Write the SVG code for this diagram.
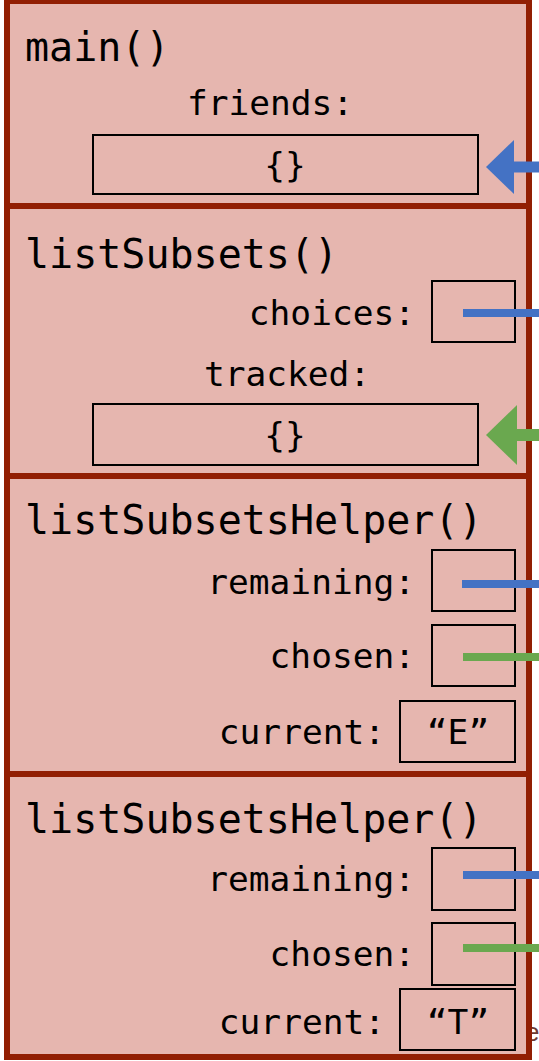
<svg xmlns="http://www.w3.org/2000/svg" width="539" height="1061" viewBox="0 0 539 1061">
  <style>
    .frame { fill: #E6B6AF; stroke: #921F03; stroke-width: 6; }
    .title { font-family: "DejaVu Sans Mono", "Liberation Mono", monospace; font-size: 40px; fill: #000; }
    .label { font-family: "DejaVu Sans Mono", "Liberation Mono", monospace; font-size: 34.5px; fill: #000; }
    .cell { fill: none; stroke: #000; stroke-width: 2; }
    .ptr-blue { stroke: #4472C4; stroke-width: 8; }
    .ptr-green { stroke: #6AA84F; stroke-width: 8; }
    .arr-blue { stroke: #4472C4; stroke-width: 11; }
    .arr-green { stroke: #6AA84F; stroke-width: 12; }
  </style>
  <defs>
    <marker id="headBlue" markerUnits="userSpaceOnUse" markerWidth="29" markerHeight="54" refX="0" refY="27" orient="auto">
      <path d="M0,0 L28,27 L0,54 z" fill="#4472C4"/>
    </marker>
    <marker id="headGreen" markerUnits="userSpaceOnUse" markerWidth="32" markerHeight="60" refX="0" refY="30" orient="auto">
      <path d="M0,0 L31,30 L0,60 z" fill="#6AA84F"/>
    </marker>
  </defs>

  <!-- edge of a caption lying behind the stack -->
  <text x="525" y="1041" font-family="Liberation Sans, sans-serif" font-size="26" fill="#6d3b34">e</text>

  <g id="frame-main">
    <rect class="frame" x="7" y="1" width="522" height="205"/>
    <text class="title" x="25" y="61">main()</text>
    <text class="label" x="187" y="115">friends:</text>
    <rect class="cell" x="93" y="135" width="385" height="59"/>
    <text class="label" x="285" y="177" text-anchor="middle">{}</text>
  </g>

  <g id="frame-listSubsets">
    <rect class="frame" x="7" y="206" width="522" height="270"/>
    <text class="title" x="25" y="268">listSubsets()</text>
    <text class="label" x="415" y="325" text-anchor="end">choices:</text>
    <rect class="cell" x="432" y="281" width="83" height="61"/>
    <text class="label" x="204" y="386">tracked:</text>
    <rect class="cell" x="93" y="404" width="385" height="61"/>
    <text class="label" x="285" y="447" text-anchor="middle">{}</text>
  </g>

  <g id="frame-helper-1">
    <rect class="frame" x="7" y="476" width="522" height="298"/>
    <text class="title" x="25" y="534">listSubsetsHelper()</text>
    <text class="label" x="415" y="594" text-anchor="end">remaining:</text>
    <rect class="cell" x="432" y="550" width="83" height="61"/>
    <text class="label" x="415" y="668" text-anchor="end">chosen:</text>
    <rect class="cell" x="432" y="625" width="83" height="61"/>
    <text class="label" x="385" y="744" text-anchor="end">current:</text>
    <rect class="cell" x="400" y="701" width="115" height="61"/>
    <text class="label" x="458" y="744" text-anchor="middle">“E”</text>
  </g>

  <g id="frame-helper-2">
    <rect class="frame" x="7" y="774" width="522" height="283"/>
    <text class="title" x="25" y="833">listSubsetsHelper()</text>
    <text class="label" x="415" y="891" text-anchor="end">remaining:</text>
    <rect class="cell" x="432" y="848" width="83" height="62"/>
    <text class="label" x="415" y="966" text-anchor="end">chosen:</text>
    <rect class="cell" x="432" y="923" width="83" height="62"/>
    <text class="label" x="385" y="1034" text-anchor="end">current:</text>
    <rect class="cell" x="400" y="989" width="115" height="61"/>
    <text class="label" x="458" y="1034" text-anchor="middle">“T”</text>
  </g>

  <g id="connectors">
    <line class="arr-blue" x1="545" y1="167" x2="514" y2="167" marker-end="url(#headBlue)"/>
    <line class="ptr-blue" x1="463" y1="313" x2="545" y2="313"/>
    <line class="arr-green" x1="545" y1="435" x2="517" y2="435" marker-end="url(#headGreen)"/>
    <line class="ptr-blue" x1="462" y1="584" x2="545" y2="584"/>
    <line class="ptr-green" x1="463" y1="657" x2="545" y2="657"/>
    <line class="ptr-blue" x1="463" y1="875" x2="545" y2="875"/>
    <line class="ptr-green" x1="463" y1="948" x2="545" y2="948"/>
  </g>
</svg>
